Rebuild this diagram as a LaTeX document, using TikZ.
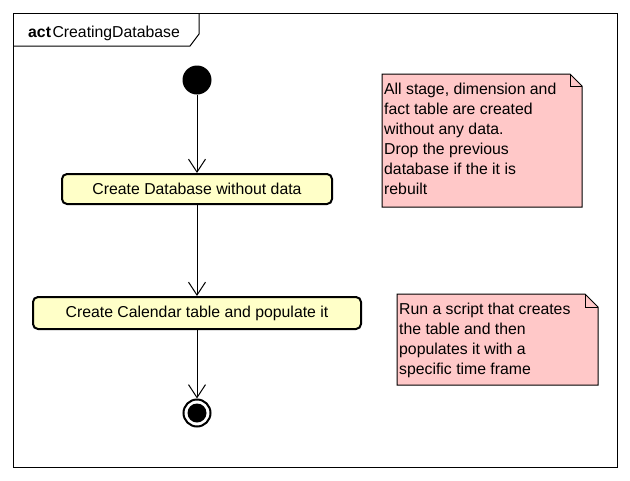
\documentclass[tikz,border=0pt]{standalone}
\usepackage{fontspec}
\setmainfont{Liberation Sans}
\usetikzlibrary{arrows.meta}
\definecolor{actfill}{RGB}{255,255,200}
\definecolor{notefill}{RGB}{255,200,200}
\tikzset{
  txt/.style={font=\fontsize{15.8}{20}\selectfont},
  action/.style={txt, draw, line width=2pt, rounded corners=5pt, fill=actfill, inner sep=0pt},
  flow/.style={line width=1pt, -{Straight Barb[length=13pt,width=17pt]}},
  notebox/.style={draw, line width=1pt, fill=notefill},
  notetext/.style={txt, anchor=north west, align=left, inner sep=0pt},
}
\begin{document}
\begin{tikzpicture}[x=1pt,y=-1pt]
\useasboundingbox (0,0) rectangle (630,480);
\fill[white] (0,0) rectangle (630,480);
% frame
\draw[line width=1pt] (13,13) rectangle (617,467);
\draw[line width=1pt] (13,46) -- (190,46) -- (199,34) -- (199,13);
\node[txt, anchor=base west, inner sep=0pt] (title) at (28,37) {\textbf{act}\kern1.5pt CreatingDatabase};
% nodes
\node[circle, fill=black, minimum size=29pt, inner sep=0pt] (start) at (197,80) {};
\node[action, minimum width=270pt, minimum height=30pt] (a1) at (197,189) {Create Database without data};
\node[action, minimum width=328pt, minimum height=32pt] (a2) at (197,313) {Create Calendar table and populate it};
\node[circle, draw=black, line width=2pt, minimum size=27pt, inner sep=0pt,
      path picture={\fill[black] (path picture bounding box.center) circle (9.5pt);}] (end) at (197,413) {};
% flows
\draw[flow] (start) -- (a1);
\draw[flow] (a1) -- (a2);
\draw[flow] (a2) -- (end);
% notes
\draw[notebox] (382,74) -- (570,74) -- (582,86) -- (582,207) -- (382,207) -- cycle;
\draw[line width=1pt] (570,74) -- (570,86) -- (582,86);
\node[notetext] (n1) at (384,83) {All stage, dimension and\\fact table are created\\without any data.\\Drop the previous\\database if the it is\\rebuilt};
\draw[notebox] (397,294) -- (585,294) -- (598,307) -- (598,385) -- (397,385) -- cycle;
\draw[line width=1pt] (585,294) -- (585,307) -- (598,307);
\node[notetext] (n2) at (399,303) {Run a script that creates\\the table and then\\populates it with a\\specific time frame};
\end{tikzpicture}
\end{document}
